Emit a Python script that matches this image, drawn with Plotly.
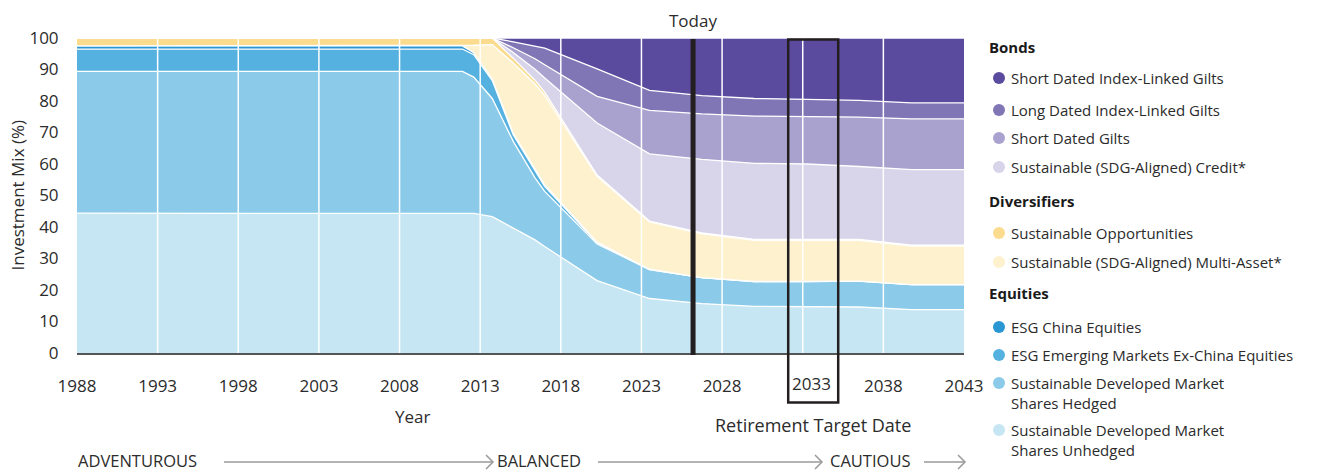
import plotly.graph_objects as go

# ---------------- data ----------------
YEARS = [1988, 2011.9, 2012.6, 2013.75, 2015.05, 2016.4, 2017.0, 2020.25,
         2023.5, 2026.75, 2030.0, 2033.25, 2036.5, 2039.75, 2043]

unhedged = [44.4, 44.4, 44.3, 43.3, 39.8, 35.9, 33.8, 23.0, 17.3, 15.7, 14.8, 14.7, 14.6, 13.8, 13.8]
hedged   = [45.0, 45.0, 43.3, 37.5, 27.4, 19.7, 17.5, 11.6, 9.2, 8.2, 7.9, 8.0, 8.2, 7.9, 7.9]
em_exch  = [7.1, 7.1, 7.1, 5.7, 2.1, 2.1, 1.6, 0.4, 0.0, 0.0, 0.0, 0.0, 0.0, 0.0, 0.0]
china    = [1.0, 1.0, 0.6, 0.5, 0.5, 0.5, 0.5, 0.2, 0.1, 0.0, 0.0, 0.0, 0.0, 0.0, 0.0]
multi    = [0.0, 0.0, 2.4, 10.9, 22.3, 27.2, 28.4, 20.9, 15.0, 13.9, 13.1, 13.1, 13.0, 12.2, 12.2]
opps     = [2.5, 2.5, 2.3, 2.1, 1.5, 1.2, 1.0, 0.4, 0.3, 0.3, 0.3, 0.3, 0.3, 0.3, 0.3]
credit   = [0.0, 0.0, 0.0, 0.0, 1.8, 3.5, 4.5, 16.5, 21.3, 23.4, 24.1, 23.9, 23.1, 24.0, 24.0]
sd_gilts = [0.0, 0.0, 0.0, 0.0, 1.5, 3.3, 4.2, 8.5, 13.8, 14.4, 15.0, 15.1, 15.7, 16.1, 16.1]
ld_ilg   = [0.0, 0.0, 0.0, 0.0, 1.9, 4.1, 5.3, 8.7, 6.4, 5.8, 5.6, 5.4, 5.3, 5.1, 5.1]
sd_ilg   = [0.0, 0.0, 0.0, 0.0, 1.2, 2.5, 3.2, 9.8, 16.6, 18.3, 19.2, 19.5, 19.8, 20.6, 20.6]

SERIES_NAMES = [
    "Sustainable Developed Market Shares Unhedged",
    "Sustainable Developed Market Shares Hedged",
    "ESG Emerging Markets Ex-China Equities",
    "ESG China Equities",
    "Sustainable (SDG-Aligned) Multi-Asset*",
    "Sustainable Opportunities",
    "Sustainable (SDG-Aligned) Credit*",
    "Short Dated Gilts",
    "Long Dated Index-Linked Gilts",
    "Short Dated Index-Linked Gilts",
]
SERIES_VALUES = [unhedged, hedged, em_exch, china, multi, opps, credit, sd_gilts, ld_ilg, sd_ilg]
COLORS = ["#C6E6F3", "#8BCBE9", "#55B2E0", "#2A96D4", "#FEF1CE",
          "#FBDC8E", "#D8D4EA", "#A9A2CF", "#8075B5", "#5A4B9F"]

X_TICKS = list(range(1988, 2044, 5))
Y_TICKS = list(range(0, 101, 10))
TODAY = 2026.2
TARGET_BOX = (2032.1, 2035.2)

LEGEND_ROWS = [  # (label, series index or None for header)
    ("Bonds", None),
    ("Short Dated Index-Linked Gilts", 9),
    ("Long Dated Index-Linked Gilts", 8),
    ("Short Dated Gilts", 7),
    ("Sustainable (SDG-Aligned) Credit*", 6),
    ("Diversifiers", None),
    ("Sustainable Opportunities", 5),
    ("Sustainable (SDG-Aligned) Multi-Asset*", 4),
    ("Equities", None),
    ("ESG China Equities", 3),
    ("ESG Emerging Markets Ex-China Equities", 2),
    ("Sustainable Developed Market<br>Shares Hedged", 1),
    ("Sustainable Developed Market<br>Shares Unhedged", 0),
]
LEGEND_Y = [47, 78, 110, 138, 167, 201, 233, 262, 293, 327, 355, 383, 430]

# ---------------- layout geometry ----------------
W, H = 1318, 473
PL, PR, PT, PB = 77, 964, 38, 353
FONT = "'Open Sans', Roboto, sans-serif"
TXT = "#2b2b2b"


def fx(px):
    return (px - PL) / (PR - PL)


def fy(py):
    return (PB - py) / (PB - PT)


def note(text, x, y, xanchor="center", size=17, **kw):
    d = dict(text=text, x=x, y=y, xref="paper", yref="paper", xanchor=xanchor,
             yanchor="middle", showarrow=False,
             font=dict(size=size, color=kw.pop("color", TXT), family=FONT))
    d.update(kw)
    return d


fig = go.Figure()
for name, vals, col in zip(SERIES_NAMES, SERIES_VALUES, COLORS):
    fig.add_trace(go.Scatter(
        x=YEARS, y=vals, name=name, mode="lines", stackgroup="one",
        line=dict(color="white", width=1.3), fillcolor=col,
        showlegend=False, hoverinfo="skip"))

shapes = []
# white vertical grid lines drawn over the areas
for yr in X_TICKS[1:-1]:
    shapes.append(dict(type="line", xref="x", yref="paper", x0=yr, x1=yr, y0=0, y1=1,
                       line=dict(color="white", width=1.5), layer="above"))
# Today line
shapes.append(dict(type="line", xref="x", yref="paper", x0=TODAY, x1=TODAY,
                   y0=fy(355), y1=fy(39), line=dict(color="#231f20", width=5), layer="above"))
# retirement target box
shapes.append(dict(type="rect", xref="x", yref="paper", x0=TARGET_BOX[0], x1=TARGET_BOX[1],
                   y0=fy(402.5), y1=fy(39.5), line=dict(color="#231f20", width=2.5),
                   fillcolor="rgba(0,0,0,0)", layer="above"))

annotations = [
    note("Today", fx(693), fy(21)),
    note("Year", fx(412), fy(416)),
    note("Retirement Target Date", fx(813), fy(425), size=18),
    note("Investment Mix (%)", fx(17), 0.5, textangle=-90),
    dict(text="2033", x=2033, xshift=9, y=fy(383), xref="x", yref="paper",
         xanchor="center", yanchor="middle", showarrow=False,
         font=dict(size=17, color=TXT, family=FONT)),
]

# bottom risk-profile labels and arrows
LABEL_Y = 460
for label, left in [("ADVENTUROUS", 77), ("BALANCED", 496), ("CAUTIOUS", 829)]:
    annotations.append(note(label, fx(left), fy(LABEL_Y), xanchor="left", size=16.5,
                            borderpad=0))
for x0, x1 in [(224, 493), (598, 822), (924, 965)]:
    shapes.append(dict(type="line", xref="paper", yref="paper", x0=fx(x0), x1=fx(x1),
                       y0=fy(462), y1=fy(462), line=dict(color="#9a9a9a", width=1.5)))
    shapes.append(dict(type="path", xref="paper", yref="paper",
                       path=f"M {fx(x1-7)} {fy(455)} L {fx(x1)} {fy(462)} L {fx(x1-7)} {fy(469)}",
                       line=dict(color="#9a9a9a", width=1.5)))

# manual legend
for (label, idx), py in zip(LEGEND_ROWS, LEGEND_Y):
    if idx is None:
        annotations.append(note(f"<b>{label}</b>", fx(987), fy(py), xanchor="left",
                                size=15, color="#1a1a1a"))
    else:
        lines = label.count("<br>") + 1
        cy = py + (lines - 1) * 9.7
        annotations.append(note(label, fx(1009), fy(cy), xanchor="left", size=15,
                                align="left"))
        shapes.append(dict(type="circle", xref="paper", yref="paper", xsizemode="pixel",
                           ysizemode="pixel", xanchor=fx(999), yanchor=fy(py),
                           x0=-6, x1=6, y0=-6, y1=6, fillcolor=COLORS[idx],
                           line=dict(width=0)))

fig.update_layout(
    width=W, height=H, margin=dict(l=PL, r=W - PR, t=PT, b=H - PB),
    paper_bgcolor="white", plot_bgcolor="white", showlegend=False,
    font=dict(family=FONT, size=17, color=TXT),
    shapes=shapes, annotations=annotations,
    xaxis=dict(range=[1988, 2043], tickmode="array", tickvals=X_TICKS,
               ticktext=["" if t == 2033 else str(t) for t in X_TICKS],
               showgrid=False, zeroline=False, showline=True, linecolor="#555555",
               linewidth=2, ticks="outside", ticklen=17, tickcolor="rgba(0,0,0,0)",
               tickfont=dict(size=17, color=TXT, family=FONT), layer="above traces"),
    yaxis=dict(range=[0, 100], tickmode="array", tickvals=Y_TICKS, showgrid=False,
               zeroline=False, showline=False, ticks="outside", ticklen=14,
               tickcolor="rgba(0,0,0,0)", tickfont=dict(size=17, color=TXT, family=FONT)),
)

fig.write_html("out.html", config={"displayModeBar": False},
               post_script="document.body.style.margin='0';document.body.style.overflow='hidden';")
